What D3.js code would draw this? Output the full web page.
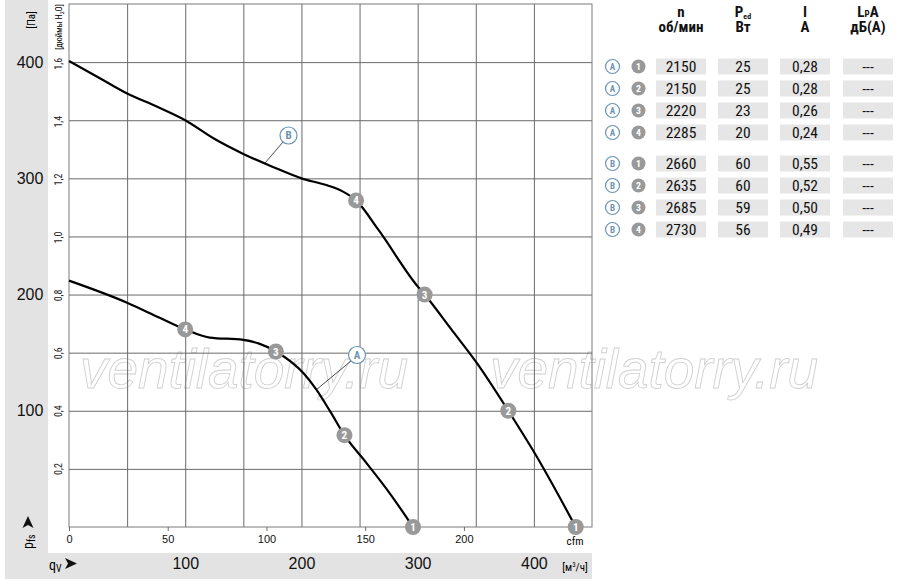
<!DOCTYPE html>
<html>
<head>
<meta charset="utf-8">
<script src="https://cdn.jsdelivr.net/npm/d3@7"></script>
<style>
  body { margin: 0; background: #fff; }
  svg { font-family: "Liberation Sans Narrow", "Roboto Condensed", "DejaVu Sans Condensed", "Liberation Sans", sans-serif; }
</style>
</head>
<body>
<div id="chart"></div>
<script>
// curve values: [flow m³/h, static pressure Pa]
const curveA = [[0,212],[50,193],[78,180],[100,170],[121,163],[150,161],[163,158],[178,151],[202,132],[213,118],[225,99],[237,79],[256,55],[276,29],[296,0]];
const curveB = [[0,401],[25,387],[50,373],[75,362],[100,350],[125,334],[150,321],[175,310],[200,300],[222,294],[235,289],[247,281],[266,256],[300,207],[306,200],[329,170],[351,141],[378,100],[401,63],[436,0]];
// operating points 1..4 on each curve
const pointsA = [[296,0],[237,79],[178,151],[100,170]];
const pointsB = [[436,0],[378,100],[306,200],[247,281]];

const paTicks = [100, 200, 300, 400];
const inchTicks = [0.2, 0.4, 0.6, 0.8, 1.0, 1.2, 1.4, 1.6];
const cfmTicks = [0, 50, 100, 150, 200];
const m3hTicks = [100, 200, 300, 400];

// table
const rowCurves = ["A","A","A","A","B","B","B","B"];
const rowPoints = [1,2,3,4,1,2,3,4];
const speed = ["2150","2150","2220","2285","2660","2635","2685","2730"];
const power = ["25","25","23","20","60","60","59","56"];
const current = ["0,28","0,28","0,26","0,24","0,55","0,52","0,50","0,49"];
const noise = ["---","---","---","---","---","---","---","---"];

const W = 900, H = 586;
const pLeft = 69, pRight = 592, pTop = 4, pBottom = 527;
const blue = "#6b93b3", grid = "#6a6a6a", band = "#e3e3e3";

const svg = d3.select("#chart").append("svg").attr("width", W).attr("height", H);

const x = d3.scaleLinear().domain([0, 450]).range([pLeft, pRight]);
const y = d3.scaleLinear().domain([0, 450]).range([pBottom, pTop]);
const xCfm = d3.scaleLinear().domain([0, 450 / 1.699]).range([pLeft, pRight]);
const yInch = d3.scaleLinear().domain([0, 450 / 249.09]).range([pBottom, pTop]);

// grey bands
svg.append("rect").attr("x", 5).attr("y", 0).attr("width", 43).attr("height", 579).attr("fill", band);
svg.append("rect").attr("x", 5).attr("y", 553).attr("width", 587).attr("height", 26).attr("fill", band);

// watermark
["ventilatorry.ru", "ventilatorry.ru"].forEach((t, i) => {
  svg.append("text").attr("x", i ? 490 : 80).attr("y", 388)
    .attr("font-family", "Liberation Sans, Arial, sans-serif")
    .attr("font-style", "italic").attr("font-size", 55).attr("textLength", 328)
    .attr("fill", "none").attr("stroke", "#d0d0d0").attr("stroke-width", 0.9)
    .text(t);
});

// grid
svg.append("g").attr("transform", `translate(0,${pBottom})`)
  .call(d3.axisBottom(x).tickValues(d3.range(50, 450, 50)).tickSize(-(pBottom - pTop)).tickFormat(""))
  .call(g => g.select(".domain").remove())
  .call(g => g.selectAll("line").attr("stroke", grid));
svg.append("g").attr("transform", `translate(${pLeft},0)`)
  .call(d3.axisLeft(y).tickValues(d3.range(50, 450, 50)).tickSize(-(pRight - pLeft)).tickFormat(""))
  .call(g => g.select(".domain").remove())
  .call(g => g.selectAll("line").attr("stroke", grid));
svg.append("rect").attr("x", pLeft).attr("y", pTop).attr("width", pRight - pLeft).attr("height", pBottom - pTop)
  .attr("fill", "none").attr("stroke", "#7a7a7a");

// Pa labels in grey band
svg.append("g").attr("transform", "translate(30,0)")
  .call(d3.axisLeft(y).tickValues(paTicks).tickSize(0))
  .call(g => g.select(".domain").remove())
  .call(g => g.selectAll("text").attr("x", 0).attr("text-anchor", "middle")
    .attr("font-family", null).attr("font-size", 16).attr("font-weight", 500).attr("fill", "#111"));
svg.append("text").attr("transform", "translate(35,20) rotate(-90)").attr("text-anchor", "middle")
  .attr("font-size", 11).text("[Па]");

// inch H2O labels, rotated
svg.append("g").attr("class", "inch").selectAll("text").data(inchTicks).join("text")
  .attr("transform", d => `translate(62,${yInch(d)}) rotate(-90)`)
  .attr("text-anchor", "middle").attr("font-size", 10).attr("fill", "#222")
  .text(d => d3.format(".1f")(d).replace(".", ","));
const ih = svg.append("text").attr("transform", "translate(62,27) rotate(-90)").attr("text-anchor", "middle")
  .attr("font-size", 8.5);
ih.append("tspan").text("[дюймы H");
ih.append("tspan").attr("font-size", 6).attr("dy", 2).text("2");
ih.append("tspan").attr("dy", -2).text("O]");

// cfm axis
svg.append("g").attr("transform", `translate(0,${pBottom})`)
  .call(d3.axisBottom(xCfm).tickValues(cfmTicks).tickSize(4).tickPadding(4))
  .call(g => g.select(".domain").remove())
  .call(g => g.selectAll("line").attr("stroke", grid))
  .call(g => g.selectAll("text").attr("font-family", null).attr("font-size", 11).attr("fill", "#111"));
svg.append("text").attr("x", 575).attr("y", 545).attr("text-anchor", "middle").attr("font-size", 11).text("cfm");

// m³/h axis
svg.append("g").attr("transform", "translate(0,558)")
  .call(d3.axisBottom(x).tickValues(m3hTicks).tickSize(0).tickPadding(0))
  .call(g => g.select(".domain").remove())
  .call(g => g.selectAll("text").attr("dy", "0.71em").attr("font-family", null).attr("font-size", 16)
    .attr("font-weight", 500).attr("fill", "#111"));
const un = svg.append("text").attr("x", 575).attr("y", 571).attr("text-anchor", "middle").attr("font-size", 11);
un.append("tspan").text("[м");
un.append("tspan").attr("font-size", 7).attr("dy", -4).text("3");
un.append("tspan").attr("dy", 4).text("/ч]");

// qV and pfs arrows
const qv = svg.append("text").attr("x", 49).attr("y", 570).attr("font-size", 14);
qv.append("tspan").text("q");
qv.append("tspan").attr("font-size", 10).attr("dy", 2).text("V");
svg.append("path").attr("d", "M65,558 L77,563.5 L65,569 L68,563.5 Z").attr("fill", "#111");
const pf = svg.append("text").attr("transform", "translate(33,549) rotate(-90)").attr("font-size", 14);
pf.append("tspan").text("p");
pf.append("tspan").attr("font-size", 10).attr("dy", 2).text("fs");
svg.append("path").attr("d", "M22.5,528 L28,516 L33.5,528 L28,525 Z").attr("fill", "#111");

// curves
const line = d3.line().x(d => x(d[0])).y(d => y(d[1])).curve(d3.curveMonotoneX);
[curveA, curveB].forEach(c => {
  svg.append("path").datum(c).attr("d", line).attr("fill", "none")
    .attr("stroke", "#000").attr("stroke-width", 2.2);
});

// operating point markers
function marker(g, cx, cy, n, r) {
  g.append("circle").attr("cx", cx).attr("cy", cy).attr("r", r).attr("fill", "#999");
  g.append("text").attr("x", cx).attr("y", cy).attr("dy", "0.36em").attr("text-anchor", "middle")
    .attr("font-size", r * 1.4).attr("font-weight", "bold").attr("fill", "#fff").text(n);
}
const mg = svg.append("g");
[pointsA, pointsB].forEach(pts => pts.forEach((p, i) => marker(mg, x(p[0]), y(p[1]), i + 1, 8)));

// curve labels
function curveLabel(g, cx, cy, t, r) {
  g.append("circle").attr("cx", cx).attr("cy", cy).attr("r", r).attr("fill", "#fff")
    .attr("stroke", blue).attr("stroke-width", 1.2);
  g.append("text").attr("x", cx).attr("y", cy).attr("dy", "0.36em").attr("text-anchor", "middle")
    .attr("font-size", r * 1.3).attr("font-weight", "bold").attr("fill", blue).text(t);
}
const lg = svg.append("g");
lg.append("line").attr("x1", 283).attr("y1", 142).attr("x2", 265).attr("y2", 163).attr("stroke", "#000").attr("stroke-width", 0.7);
lg.append("line").attr("x1", 351).attr("y1", 361).attr("x2", 316).attr("y2", 390).attr("stroke", "#000").attr("stroke-width", 0.7);
curveLabel(lg, 288.5, 135.5, "B", 8.5);
curveLabel(lg, 357, 355, "A", 8.5);

// table headers
const colX = [681, 743, 805, 868];
const hd = svg.append("g").attr("font-weight", "bold").attr("font-size", 15).attr("text-anchor", "middle").attr("fill", "#111");
hd.append("text").attr("x", colX[0]).attr("y", 17).text("n");
hd.append("text").attr("x", colX[0]).attr("y", 32).text("об/мин");
const ph = hd.append("text").attr("x", colX[1]).attr("y", 17);
ph.append("tspan").text("P");
ph.append("tspan").attr("font-size", 8).attr("dy", 2).text("ed");
hd.append("text").attr("x", colX[1]).attr("y", 32).text("Вт");
hd.append("text").attr("x", colX[2]).attr("y", 17).text("I");
hd.append("text").attr("x", colX[2]).attr("y", 32).text("A");
const lh = hd.append("text").attr("x", colX[3]).attr("y", 17);
lh.append("tspan").text("L");
lh.append("tspan").attr("font-size", 9).text("P");
lh.append("tspan").text("A");
hd.append("text").attr("x", colX[3]).attr("y", 32).text("дБ(A)");

// table rows
const rowY = [66.5, 88.5, 110.5, 132.5, 163.5, 185.5, 207.5, 229.5];
const cols = [speed, power, current, noise];
const tb = svg.append("g");
rowY.forEach((ry, i) => {
  curveLabel(tb, 612.5, ry, rowCurves[i], 7);
  marker(tb, 638.5, ry, rowPoints[i], 7);
  cols.forEach((col, j) => {
    tb.append("rect").attr("x", colX[j] - 25).attr("y", ry - 8).attr("width", 50).attr("height", 16).attr("fill", "#e6e6e6");
    tb.append("text").attr("x", colX[j]).attr("y", ry).attr("dy", "0.36em").attr("text-anchor", "middle")
      .attr("font-size", 15.5).attr("fill", "#111").text(col[i]);
  });
});
</script>
</body>
</html>
